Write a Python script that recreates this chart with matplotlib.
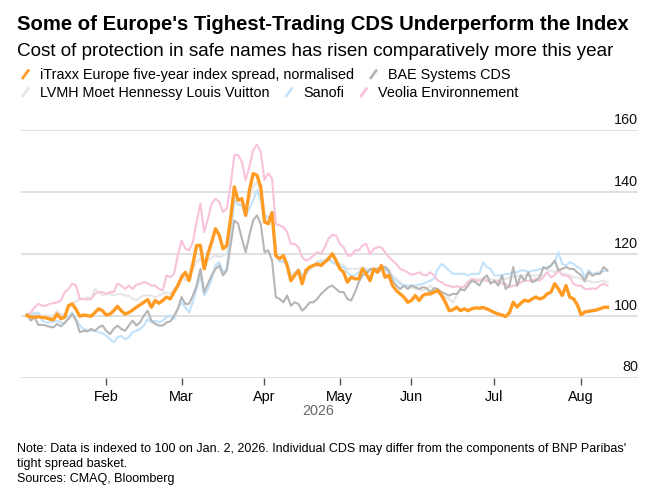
import numpy as np
import pandas as pd
import matplotlib
matplotlib.use("Agg")
import matplotlib.pyplot as plt
from matplotlib.lines import Line2D
from matplotlib import transforms

# trading days from Jan 2, 2026 (European holidays removed)
holidays = ["2026-01-01", "2026-04-03", "2026-04-06", "2026-05-01", "2026-05-25"]
dates = pd.bdate_range("2026-01-02", periods=155, freq="C", holidays=holidays)

itraxx = [
    100.0, 99.6, 99.5, 99.6, 99.4, 99.3, 98.9, 98.7, 100.5, 99.0,
    99.5, 103.2, 103.8, 102.0, 99.8, 100.2, 100.0, 99.8, 101.0, 102.2,
    101.6, 100.2, 100.5, 101.6, 103.0, 101.6, 100.5, 101.0, 101.8, 102.7,
    103.5, 104.3, 105.2, 102.7, 104.9, 104.0, 104.9, 106.0, 105.4, 107.6,
    109.7, 112.4, 114.0, 111.3, 116.7, 122.7, 122.7, 115.1, 120.0, 123.8,
    128.1, 126.0, 121.6, 122.7, 131.3, 141.6, 137.3, 137.8, 132.4, 140.5,
    145.9, 145.4, 141.6, 130.3, 129.7, 133.3, 119.4, 118.4, 119.4, 116.2,
    111.3, 113.0, 114.6, 110.3, 114.6, 115.7, 116.2, 116.7, 116.2, 117.3,
    118.4, 120.0, 117.8, 115.1, 114.0, 110.8, 112.4, 111.9, 111.9, 115.1,
    113.5, 111.3, 115.1, 114.0, 116.2, 112.4, 113.0, 109.7, 108.1, 107.0,
    106.0, 104.3, 104.9, 106.5, 104.9, 106.5, 107.0, 107.0, 107.6, 108.1,
    106.5, 104.3, 101.6, 101.9, 102.7, 101.6, 102.2, 101.6, 102.2, 102.5,
    102.4, 102.6, 102.2, 101.6, 101.0, 100.5, 100.2, 99.7, 101.0, 104.3,
    102.8, 104.0, 105.0, 104.6, 105.4, 106.0, 105.4, 105.8, 107.0, 107.6,
    110.3, 108.6, 106.5, 109.7, 106.0, 105.4, 103.5, 100.3, 101.2, 101.4,
    101.6, 101.8, 102.2, 102.7, 102.7,
]
bae = [
    100.5, 98.4, 99.5, 97.0, 97.0, 96.8, 96.4, 96.2, 97.3, 96.5,
    97.8, 98.9, 100.5, 98.4, 94.6, 95.1, 94.9, 95.7, 95.1, 96.2,
    96.8, 95.1, 94.0, 95.7, 96.8, 95.7, 95.1, 96.8, 98.4, 96.8,
    97.8, 100.0, 101.6, 98.4, 97.3, 96.8, 96.8, 97.8, 98.1, 100.0,
    102.2, 106.0, 103.8, 103.8, 106.5, 109.7, 115.1, 107.6, 110.3, 113.0,
    115.1, 116.2, 113.0, 114.6, 122.7, 130.8, 129.7, 124.9, 120.5, 126.0,
    130.8, 132.4, 129.7, 120.5, 121.1, 117.8, 106.0, 105.4, 104.3, 106.5,
    103.2, 104.3, 103.8, 101.6, 102.7, 104.3, 104.3, 105.4, 107.0, 108.1,
    109.2, 109.7, 108.6, 107.6, 107.6, 105.4, 104.9, 107.6, 110.8, 113.0,
    113.5, 115.1, 115.1, 115.1, 115.7, 115.7, 114.6, 111.3, 109.7, 108.6,
    109.7, 108.6, 109.7, 109.2, 108.6, 109.2, 108.9, 107.6, 108.9, 108.6,
    107.6, 107.0, 106.5, 107.0, 107.0, 108.6, 108.1, 109.7, 111.3, 110.8,
    109.7, 111.9, 113.0, 110.3, 111.3, 109.7, 113.0, 108.6, 109.7, 115.7,
    109.7, 113.0, 111.3, 114.0, 110.8, 111.3, 112.4, 115.7, 115.1, 116.2,
    117.8, 114.6, 115.1, 115.7, 115.1, 115.1, 114.0, 113.0, 111.3, 114.0,
    112.9, 113.5, 113.5, 115.7, 114.6,
]
lvmh = [
    100.5, 100.7, 101.0, 100.0, 100.0, 100.2, 99.7, 100.0, 101.6, 100.5,
    100.5, 102.7, 103.8, 104.6, 105.4, 105.4, 105.9, 105.4, 108.6, 107.6,
    106.5, 107.0, 107.0, 106.5, 107.0, 107.0, 106.5, 106.5, 105.4, 104.9,
    105.9, 106.5, 106.5, 106.5, 105.9, 106.5, 107.0, 107.6, 107.0, 108.6,
    109.7, 113.5, 111.3, 111.9, 115.1, 117.3, 118.4, 116.7, 117.8, 118.9,
    119.4, 118.9, 119.4, 120.0, 128.1, 137.8, 136.2, 136.2, 134.1, 137.8,
    141.6, 143.2, 139.0, 131.3, 131.3, 132.4, 119.4, 117.8, 117.3, 117.3,
    113.0, 114.0, 114.6, 112.4, 113.5, 115.1, 116.2, 116.2, 117.3, 117.5,
    117.8, 117.3, 117.3, 116.7, 116.2, 115.1, 115.1, 115.1, 115.1, 115.7,
    115.1, 114.0, 114.6, 114.6, 115.1, 115.7, 114.0, 113.0, 111.9, 110.8,
    109.7, 109.2, 109.2, 108.6, 108.6, 108.1, 108.6, 109.7, 108.6, 108.1,
    106.5, 106.0, 105.4, 104.3, 106.5, 108.6, 109.7, 110.8, 111.3, 111.9,
    111.6, 111.3, 111.3, 111.9, 111.6, 111.3, 111.9, 111.9, 112.4, 112.4,
    112.9, 112.9, 113.0, 113.0, 113.0, 113.0, 113.0, 113.0, 114.0, 114.6,
    114.0, 115.1, 113.5, 113.5, 113.0, 112.4, 112.4, 111.9, 110.8, 111.3,
    110.8, 110.8, 111.0, 111.3, 110.8,
]
sanofi = [
    100.5, 100.0, 100.5, 101.0, 98.4, 97.8, 97.8, 98.0, 98.4, 97.8,
    97.3, 99.5, 101.0, 98.9, 96.8, 95.7, 95.4, 95.1, 95.1, 94.6,
    94.3, 93.5, 92.4, 91.4, 93.0, 93.5, 92.4, 93.0, 94.6, 95.1,
    95.7, 96.8, 98.9, 97.8, 98.4, 97.8, 98.4, 99.5, 100.0, 98.9,
    102.2, 104.3, 102.7, 101.0, 104.3, 108.6, 113.0, 106.5, 108.6, 111.9,
    116.2, 117.3, 114.0, 115.1, 126.0, 137.3, 135.7, 135.7, 132.4, 134.6,
    137.3, 140.5, 137.3, 132.4, 131.9, 132.4, 119.4, 117.3, 117.8, 117.3,
    111.9, 113.5, 115.1, 113.0, 113.5, 115.1, 116.2, 117.3, 117.8, 117.8,
    118.9, 117.3, 116.5, 115.7, 115.7, 114.0, 113.0, 113.0, 114.0, 115.1,
    114.6, 114.6, 114.3, 114.0, 114.6, 115.1, 113.5, 112.4, 111.3, 110.3,
    109.7, 109.7, 109.7, 109.7, 110.0, 110.3, 110.8, 111.3, 111.9, 115.1,
    116.7, 115.7, 114.6, 113.5, 113.5, 113.5, 113.5, 113.0, 113.5, 113.5,
    113.5, 117.3, 115.7, 115.1, 113.0, 113.0, 113.0, 113.5, 113.5, 114.0,
    114.0, 114.6, 114.6, 114.0, 114.6, 114.6, 115.1, 115.1, 115.7, 116.2,
    117.3, 120.5, 116.7, 116.2, 117.3, 116.7, 115.7, 115.1, 112.4, 114.6,
    113.5, 113.8, 114.0, 114.3, 114.6,
]
veolia = [
    100.0, 101.0, 102.7, 103.8, 103.2, 103.2, 103.8, 104.0, 104.3, 104.9,
    107.6, 108.6, 110.3, 109.7, 105.4, 105.4, 105.2, 105.4, 107.0, 107.6,
    107.6, 107.0, 107.6, 107.6, 110.3, 109.7, 108.6, 109.7, 108.6, 110.0,
    110.3, 110.8, 110.5, 109.7, 109.7, 108.6, 108.1, 113.0, 112.4, 113.5,
    119.4, 124.3, 121.6, 121.1, 123.8, 130.3, 136.2, 127.0, 131.3, 136.2,
    137.8, 136.7, 133.5, 134.6, 142.1, 151.9, 151.9, 149.7, 143.8, 148.1,
    153.5, 155.3, 153.0, 143.8, 146.0, 144.3, 129.7, 129.2, 128.6, 127.0,
    123.2, 123.2, 122.1, 118.9, 117.8, 118.4, 119.4, 120.5, 120.0, 122.1,
    124.9, 126.1, 125.9, 123.2, 122.1, 119.4, 119.4, 121.1, 121.1, 122.7,
    123.2, 119.9, 121.6, 122.1, 122.1, 120.5, 118.9, 117.8, 116.7, 115.1,
    114.6, 114.0, 113.2, 113.5, 114.0, 113.2, 113.0, 114.0, 113.0, 111.3,
    110.8, 109.9, 109.7, 109.2, 109.5, 109.2, 109.2, 110.8, 111.9, 111.3,
    111.3, 111.9, 111.3, 110.8, 110.8, 111.3, 110.3, 110.3, 109.2, 109.7,
    109.7, 110.8, 111.3, 111.3, 111.3, 111.9, 111.3, 112.4, 114.0, 112.4,
    113.0, 114.6, 113.0, 113.0, 112.4, 110.3, 109.7, 109.7, 108.6, 108.6,
    108.8, 108.6, 109.7, 110.3, 109.7,
]

names = ["iTraxx Europe five-year index spread, normalised", "BAE Systems CDS",
         "LVMH Moet Hennessy Louis Vuitton", "Sanofi", "Veolia Environnement"]
colors = ["#ff9b22", "#b5b5b5", "#e6e6e6", "#c2e2fb", "#f9c2dc"]
series = [itraxx, bae, lvmh, sanofi, veolia]

yticks = [80, 100, 120, 140, 160]

font = ["Liberation Sans", "DejaVu Sans"]

W, H = 661, 489
fig = plt.figure(figsize=(W / 100, H / 100), dpi=100)

def px(x, y):
    return x / W, 1 - y / H

ax = fig.add_axes([21 / W, 1 - 378.5 / H, (638 - 21) / W, (378.5 - 131) / H])

x = np.arange(len(itraxx))
# draw order: faint ones first, orange on top
for k in [2, 3, 4, 1, 0]:
    ax.plot(x, series[k], color=colors[k], lw=2.4 if k == 0 else 1.5,
            solid_joinstyle="round", zorder=3 + (k == 0))

ax.set_ylim(80, 160)
ax.set_xlim(-1.6, 162.1)
for s in ax.spines.values():
    s.set_visible(False)
ax.set_yticks(yticks)
ax.yaxis.grid(True, color="#dddddd", lw=1.3)
ax.tick_params(axis="y", length=0, labelleft=False)
ax.set_axisbelow(True)
trans = transforms.blended_transform_factory(ax.transAxes, ax.transData)
for v in yticks:
    ax.text(1.0, v + 1.3, str(v), transform=trans, ha="right", va="bottom",
            fontsize=10.4, family=font, color="#111111")

month_pos = [i for i in range(1, len(dates)) if dates[i].month != dates[i - 1].month]
ax.set_xticks(month_pos)
ax.set_xticklabels([dates[i].strftime("%b") for i in month_pos], family=font, fontsize=10.4)
ax.tick_params(axis="x", length=5, width=1, color="#555555", pad=3)
ax.text(0.482, -0.105, "2026", transform=ax.transAxes, ha="center", va="top",
        fontsize=10.4, family=font, color="#666666")

fig.text(*px(17, 30), "Some of Europe's Tighest-Trading CDS Underperform the Index",
         fontsize=14.6, fontweight="bold", family=font, va="baseline")
fig.text(*px(17, 56), "Cost of protection in safe names has risen comparatively more this year",
         fontsize=13.6, family=font, va="baseline")

# legend with slash markers
fig.canvas.draw()
rend = fig.canvas.get_renderer()
rows = [[0, 1], [2, 3, 4]]
for r, row in enumerate(rows):
    yb = 79.5 + r * 18
    xc = 22
    for k in row:
        fig.add_artist(Line2D([xc / W, (xc + 7) / W], [1 - (yb + 0.5) / H, 1 - (yb - 9) / H],
                              color=colors[k], lw=2, solid_capstyle="butt"))
        t = fig.text((xc + 18) / W, 1 - yb / H, names[k], fontsize=10.4, family=font,
                     va="baseline")
        w = t.get_window_extent(rend).width
        xc = xc + 18 + w + 16

notes = ["Note: Data is indexed to 100 on Jan. 2, 2026. Individual CDS may differ "
         "from the components of BNP Paribas'",
         "tight spread basket.",
         "Sources: CMAQ, Bloomberg"]
for j, line in enumerate(notes):
    fig.text(*px(17, 452 + 15 * j), line, fontsize=9.0, family=font, va="baseline")

fig.savefig("out.png", dpi=100)
